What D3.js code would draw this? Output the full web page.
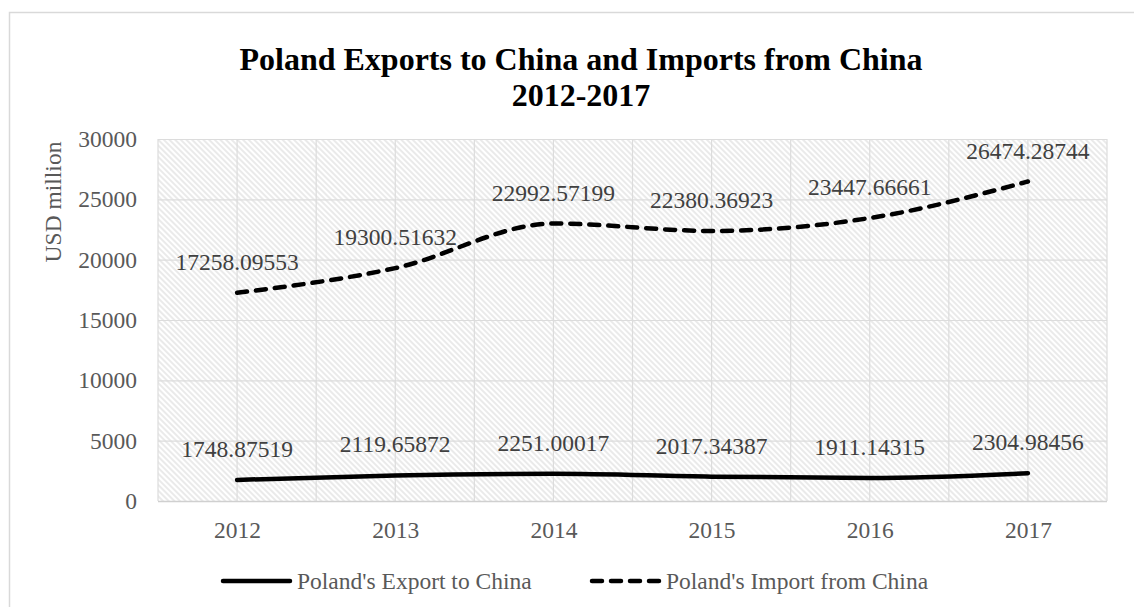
<!DOCTYPE html>
<html>
<head>
<meta charset="utf-8">
<script src="https://cdn.jsdelivr.net/npm/d3@7"></script>
<style>
  html, body { margin: 0; padding: 0; background: #fff; }
  svg { display: block; }
  text { font-family: "Liberation Serif", "Times New Roman", serif; }
</style>
</head>
<body>
<svg id="chart" width="1134" height="607"></svg>
<script>
// Years on the category axis
const years = ["2012", "2013", "2014", "2015", "2016", "2017"];
// Poland's exports to China, USD million
const exportValues = [1748.87519, 2119.65872, 2251.00017, 2017.34387, 1911.14315, 2304.98456];
// Poland's imports from China, USD million
const importValues = [17258.09553, 19300.51632, 22992.57199, 22380.36923, 23447.66661, 26474.28744];
// Value axis ticks
const yTicks = [0, 5000, 10000, 15000, 20000, 25000, 30000];
const titleLines = ["Poland Exports to China and Imports from China", "2012-2017"];
const seriesNames = ["Poland's Export to China", "Poland's Import from China"];

const svg = d3.select("#chart");
const plot = { left: 158, right: 1107, top: 139, bottom: 501 };

// Outer chart frame
svg.append("rect")
  .attr("x", 9.5).attr("y", 12.5)
  .attr("width", 1200).attr("height", 700)
  .attr("fill", "#fff").attr("stroke", "#d9d9d9").attr("stroke-width", 1.5);

// Diagonal hatch fill for the plot area
const defs = svg.append("defs");
const pat = defs.append("pattern")
  .attr("id", "hatch").attr("patternUnits", "userSpaceOnUse")
  .attr("width", 4).attr("height", 4)
  .attr("patternTransform", "rotate(-45)");
pat.append("line")
  .attr("x1", 1).attr("y1", 0).attr("x2", 1).attr("y2", 4)
  .attr("stroke", "#d9d9d9").attr("stroke-width", 1.1);

const x = d3.scalePoint().domain(years).range([plot.left, plot.right]).padding(0.5);
const y = d3.scaleLinear().domain([0, 30000]).range([plot.bottom, plot.top]);
const step = x.step();

svg.append("rect")
  .attr("x", plot.left).attr("y", plot.top)
  .attr("width", plot.right - plot.left).attr("height", plot.bottom - plot.top)
  .attr("fill", "url(#hatch)");

// Horizontal gridlines
svg.append("g").selectAll("line").data(yTicks).join("line")
  .attr("x1", plot.left).attr("x2", plot.right)
  .attr("y1", d => y(d) + 0.5).attr("y2", d => y(d) + 0.5)
  .attr("stroke", "#dcdcdc").attr("stroke-width", 1.2);

// Vertical gridlines at category centres and boundaries
const vLines = [];
years.forEach(yr => { vLines.push(x(yr) - step / 2); vLines.push(x(yr)); });
vLines.push(plot.right);
svg.append("g").selectAll("line").data(vLines).join("line")
  .attr("x1", d => d).attr("x2", d => d)
  .attr("y1", plot.top).attr("y2", plot.bottom)
  .attr("stroke", "#dcdcdc").attr("stroke-width", 1.2);

// Category axis line
svg.append("line")
  .attr("x1", plot.left).attr("x2", plot.right)
  .attr("y1", plot.bottom + 0.5).attr("y2", plot.bottom + 0.5)
  .attr("stroke", "#d0d0d0").attr("stroke-width", 1.5);

// Y axis tick labels
const yAxis = d3.axisLeft(y).tickValues(yTicks).tickSize(0).tickPadding(0).tickFormat(d3.format("d"));
const gy = svg.append("g").attr("transform", `translate(137,0)`).call(yAxis);
gy.select(".domain").remove();
gy.selectAll("text")
  .attr("font-family", "Liberation Serif, serif")
  .attr("font-size", 23.5).attr("fill", "#595959").attr("dy", "0.32em");

// X axis tick labels
const xAxis = d3.axisBottom(x).tickSize(0).tickPadding(0);
const gx = svg.append("g").attr("transform", `translate(0,${plot.bottom})`).call(xAxis);
gx.select(".domain").remove();
gx.selectAll("text")
  .attr("font-family", "Liberation Serif, serif")
  .attr("font-size", 23.5).attr("fill", "#595959")
  .attr("dy", null).attr("y", 37);

// Y axis title
svg.append("text")
  .attr("transform", "translate(61,202) rotate(-90)")
  .attr("text-anchor", "middle")
  .attr("font-size", 23.5).attr("fill", "#595959")
  .text("USD million");

// Chart title
svg.append("g").selectAll("text").data(titleLines).join("text")
  .attr("x", 581).attr("y", (d, i) => 70 + i * 36)
  .attr("text-anchor", "middle")
  .attr("font-size", 32).attr("font-weight", "bold").attr("fill", "#000")
  .text(d => d);

// Series lines (smoothed)
const line = d3.line()
  .x((d, i) => x(years[i]))
  .y(d => y(d))
  .curve(d3.curveMonotoneX);

svg.append("path").datum(exportValues)
  .attr("d", line).attr("fill", "none")
  .attr("stroke", "#000").attr("stroke-width", 4.5).attr("stroke-linecap", "round");

svg.append("path").datum(importValues)
  .attr("d", line).attr("fill", "none")
  .attr("stroke", "#000").attr("stroke-width", 4.5)
  .attr("stroke-linecap", "round").attr("stroke-dasharray", "10,9");

// Data labels above each point
const labelFmt = v => v.toFixed(5);
[exportValues, importValues].forEach(vals => {
  svg.append("g").selectAll("text").data(vals).join("text")
    .attr("x", (d, i) => x(years[i]))
    .attr("y", d => y(d) - 23)
    .attr("text-anchor", "middle")
    .attr("font-size", 23.5).attr("fill", "#404040")
    .text(d => labelFmt(d));
});

// Legend
const legend = svg.append("g");
const legendItems = [
  { name: seriesNames[0], x0: 221, dash: null },
  { name: seriesNames[1], x0: 590, dash: "10,9" }
];
legendItems.forEach(it => {
  legend.append("line")
    .attr("x1", it.x0 + 2).attr("x2", it.x0 + 69)
    .attr("y1", 581).attr("y2", 581)
    .attr("stroke", "#000").attr("stroke-width", 4.5)
    .attr("stroke-linecap", "round")
    .attr("stroke-dasharray", it.dash);
  legend.append("text")
    .attr("x", it.x0 + 76).attr("y", 589)
    .attr("font-size", 23.5).attr("fill", "#595959")
    .text(it.name);
});
</script>
</body>
</html>
